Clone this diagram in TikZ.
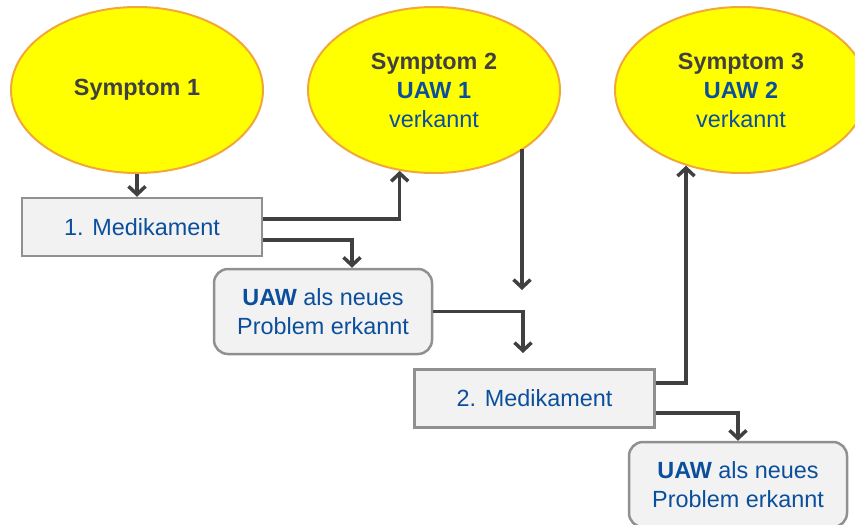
\documentclass[tikz,border=0pt]{standalone}
\usepackage{fontspec}
\setmainfont{Liberation Sans}
\usepackage{xcolor}
\usetikzlibrary{positioning,arrows.meta,shapes.geometric}
\definecolor{uawblue}{HTML}{0B4F9C}
\definecolor{txtgray}{HTML}{404040}
\definecolor{symfill}{HTML}{FFFF00}
\definecolor{symline}{HTML}{F2A73B}
\definecolor{boxfill}{HTML}{F2F2F2}
\definecolor{boxline}{HTML}{909090}
\newcommand{\uaw}[1]{\textcolor{uawblue}{\textbf{#1}}}

\begin{document}
\begin{tikzpicture}[
  x=1pt, y=-1pt,
  big/.style={font=\fontsize{23.4}{29}\selectfont},
  sym/.style={ellipse, draw=symline, line width=2pt, fill=symfill, big, align=center,
              text=txtgray, minimum width=252pt, minimum height=166pt},
  med/.style={draw=boxline, line width=2.5pt, fill=boxfill, big, align=center, text=uawblue,
              minimum width=240pt, minimum height=58pt},
  prob/.style={med, rounded corners=14pt, minimum width=218pt, minimum height=85pt},
  arrow/.style={-{Straight Barb[length=8pt,width=17pt]}, line width=3.5pt, draw=txtgray}]
\useasboundingbox (0,0) rectangle (855,525);
\node[sym] (sym1) at (137,90) {\textbf{Symptom 1}};
\node[sym, right=43pt of sym1] (sym2) {\textbf{Symptom 2}\\\uaw{UAW 1}\\\textcolor{uawblue}{verkannt}};
\node[sym, right=53pt of sym2] (sym3) {\textbf{Symptom 3}\\\uaw{UAW 2}\\\textcolor{uawblue}{verkannt}};
\node[med] (med1) at (142,227) {1. Medikament};
\node[prob] (prob1) at (323,311.5) {\textbf{UAW} als neues\\Problem erkannt};
\node[med] (med2) at (534.5,398.5) {2. Medikament};
\node[prob] (prob2) at (738,484.5) {\textbf{UAW} als neues\\Problem erkannt};
\coordinate (gap) at (522,290);
\coordinate (in2) at (523,353);
\draw[arrow] (sym1) -- (sym1 |- med1.north);
\draw[arrow] ([yshift=8pt]med1.east) -| (sym2.-113.6);
\draw[arrow] ([yshift=-13pt]med1.east) -| ([xshift=29pt]prob1.north);
\draw[arrow] (gap |- sym2.-33.5) -- (gap);
\draw[arrow] (prob1.east) -| (in2);
\draw[arrow] ([yshift=15.5pt]med2.east) -| (sym3.-126.6);
\draw[arrow] ([yshift=-14.5pt]med2.east) -| (prob2.north);
\end{tikzpicture}
\end{document}
